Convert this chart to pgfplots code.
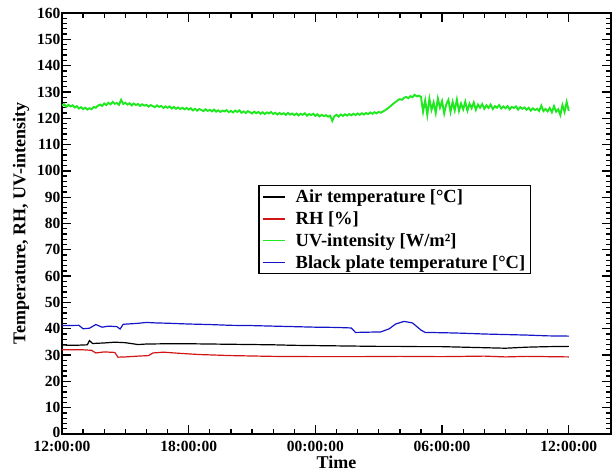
\documentclass[border=0pt]{standalone}
\usepackage{pgfplots}
\pgfplotsset{compat=1.18}
\usepackage{fontspec}
\setmainfont{Liberation Serif}

\definecolor{uvgreen}{RGB}{30,232,30}
\definecolor{rhred}{RGB}{210,20,20}
\definecolor{plateblue}{RGB}{20,20,200}

\begin{document}
\begin{tikzpicture}
\begin{axis}[
    name=ax,
    scale only axis,
    width=549pt, height=421pt,
    xmin=0, xmax=26,
    ymin=0, ymax=160,
    xtick={0,6,12,18,24},
    xticklabels={12:00:00,18:00:00,00:00:00,06:00:00,12:00:00},
    minor x tick num=5,
    ytick={0,10,...,160},
    yticklabels={\raisebox{4pt}{0},10,20,30,40,50,60,70,80,90,100,110,120,130,140,150,160},
    minor y tick num=4,
    tick align=inside,
    major tick length=9pt,
    minor tick length=5pt,
    every tick/.style={black, line width=1.3pt},
    axis line style={line width=2pt},
    /pgf/number format/assume math mode=true,
    ticklabel style={font=\bfseries\fontsize{15.5}{15.5}\selectfont},
    yticklabel style={xshift=2pt},
    xticklabel style={yshift=-4pt},
    xlabel={Time},
    ylabel={Temperature, RH, UV-intensity},
    label style={font=\bfseries\fontsize{18}{18}\selectfont},
    xlabel style={yshift=3pt},
    ylabel style={yshift=1pt},
    legend cell align=left,
    legend style={at={(0.854,0.591)}, anchor=north east,
        draw=black, line width=1.3pt,
        font=\bfseries\fontsize{18.5}{20}\selectfont,
        row sep=3.5pt, inner xsep=3pt, inner ysep=2pt},
    legend image code/.code={\draw[#1, line width=1.6pt] (0pt,0pt) -- (22pt,0pt); \path (30pt,0pt);},
]
\addplot[black, line width=1.2pt] coordinates {
(0,33.8) (0.6,33.7) (1.2,33.9) (1.3,35.5) (1.45,34.4) (2.0,34.6) (2.5,34.9)
(3.0,34.7) (3.6,34.0) (4.0,34.2) (5,34.3) (6,34.3) (7,34.2) (8,34.1) (9,34.0)
(10,33.9) (11,33.7) (12,33.6) (13,33.5) (14,33.4) (15,33.3) (16,33.3) (17,33.2)
(18,33.2) (19,33.0) (19.5,32.9) (20.5,32.7) (21,32.6) (22,33.0) (23,33.2) (24,33.3)
};
\addlegendentry{Air temperature [°C]}

\addplot[rhred, line width=1.2pt] coordinates {
(0,32.0) (1.0,32.0) (1.4,31.8) (1.6,30.8) (2.0,31.2) (2.5,31.0) (2.65,29.2)
(3.0,29.3) (3.6,29.6) (4.1,29.8) (4.3,30.8) (4.8,31.1) (5.5,30.7) (6.5,30.2)
(8,29.8) (10,29.5) (12,29.4) (14,29.4) (16,29.5) (18,29.4) (20,29.6) (21,29.3)
(22,29.5) (24,29.3)
};
\addlegendentry{RH [\%]}

\addplot[uvgreen, line width=1.9pt] coordinates {
(0.0,124.8) (0.1,125.4) (0.2,124.3) (0.3,125.1) (0.4,124.5) (0.5,124.9) (0.6,124.1) (0.7,124.6) (0.8,123.7) (0.9,124.2)
(1.0,123.5) (1.1,124.0) (1.2,123.3) (1.3,123.8) (1.4,123.4) (1.5,124.3) (1.6,124.0) (1.7,124.8) (1.8,125.2) (1.9,124.7)
(2.0,125.6) (2.1,125.0) (2.2,125.9) (2.3,125.3) (2.4,126.2) (2.5,125.5) (2.6,125.8) (2.7,125.1) (2.8,127.0) (2.9,125.4)
(3.0,125.9) (3.1,125.2) (3.2,125.7) (3.3,124.9) (3.4,125.6) (3.5,125.0) (3.6,125.4) (3.7,124.7) (3.8,125.3) (3.9,124.8)
(4.0,125.1) (4.1,124.4) (4.2,125.0) (4.3,124.6) (4.4,124.2) (4.5,124.9) (4.6,124.3) (4.7,124.7) (4.8,123.9) (4.9,124.5)
(5.0,124.0) (5.1,124.5) (5.2,123.7) (5.3,124.3) (5.4,123.6) (5.5,124.1) (5.6,123.5) (5.7,124.0) (5.8,123.4) (5.9,123.9)
(6.0,123.3) (6.1,123.8) (6.2,123.0) (6.3,123.6) (6.4,122.9) (6.5,123.5) (6.6,123.1) (6.7,122.7) (6.8,123.4) (6.9,122.8)
(7.0,123.2) (7.1,122.6) (7.2,123.3) (7.3,122.5) (7.4,123.0) (7.5,122.4) (7.6,122.9) (7.7,122.6) (7.8,123.1) (7.9,122.3)
(8.0,122.8) (8.1,122.2) (8.2,122.9) (8.3,122.4) (8.4,123.0) (8.5,122.1) (8.6,122.6) (8.7,122.0) (8.8,122.7) (8.9,122.3)
(9.0,121.8) (9.1,122.5) (9.2,121.9) (9.3,122.4) (9.4,121.7) (9.5,122.3) (9.6,121.6) (9.7,122.2) (9.8,121.8) (9.9,122.4)
(10.0,121.6) (10.1,122.1) (10.2,121.4) (10.3,122.0) (10.4,121.5) (10.5,121.9) (10.6,121.3) (10.7,122.0) (10.8,121.4) (10.9,121.8)
(11.0,121.2) (11.1,121.8) (11.2,121.1) (11.3,121.7) (11.4,121.3) (11.5,121.9) (11.6,121.0) (11.7,121.6) (11.8,121.2) (11.9,121.7)
(12.0,120.9) (12.1,121.5) (12.2,120.7) (12.3,121.3) (12.4,120.8) (12.5,121.2) (12.6,120.6) (12.7,121.0) (12.8,119.0) (12.9,120.8)
(13.0,121.3) (13.1,120.6) (13.2,121.4) (13.3,120.9) (13.4,121.5) (13.5,121.0) (13.6,121.6) (13.7,121.1) (13.8,121.7) (13.9,121.2)
(14.0,121.8) (14.1,121.3) (14.2,121.9) (14.3,121.4) (14.4,122.0) (14.5,121.6) (14.6,122.2) (14.7,121.7) (14.8,122.3) (14.9,121.9)
(15.0,122.4) (15.1,122.1) (15.2,122.6) (15.3,123.0) (15.4,123.6) (15.5,124.2) (15.6,124.9) (15.7,125.6) (15.8,126.2) (15.9,126.8)
(16.0,127.3) (16.1,127.0) (16.2,127.8) (16.3,128.1) (16.4,127.6) (16.5,128.4) (16.6,128.0) (16.7,128.9) (16.8,128.3) (16.9,128.6)
(17.0,128.2) (17.1,122.5) (17.2,126.8) (17.3,121.3) (17.4,127.4) (17.5,123.2) (17.6,126.0) (17.7,122.0) (17.8,127.5) (17.9,124.0)
(18.0,126.5) (18.1,121.8) (18.2,125.3) (18.3,127.0) (18.4,122.4) (18.5,126.2) (18.6,123.0) (18.7,127.1) (18.8,122.8) (18.9,125.6)
(19.0,123.4) (19.1,126.3) (19.2,122.9) (19.3,125.5) (19.4,123.8) (19.5,126.0) (19.6,123.2) (19.7,125.2) (19.8,124.0) (19.9,125.4)
(20.0,123.6) (20.1,124.9) (20.2,123.9) (20.3,125.2) (20.4,123.5) (20.5,124.6) (20.6,124.0) (20.7,125.0) (20.8,123.7) (20.9,124.5)
(21.0,123.8) (21.1,124.6) (21.2,123.4) (21.3,124.3) (21.4,123.9) (21.5,124.5) (21.6,123.3) (21.7,124.2) (21.8,123.6) (21.9,124.1)
(22.0,123.2) (22.1,124.0) (22.2,122.9) (22.3,123.8) (22.4,123.1) (22.5,123.6) (22.6,122.8) (22.7,124.8) (22.8,122.7) (22.9,123.5)
(23.0,122.6) (23.1,123.9) (23.2,122.3) (23.3,124.6) (23.4,122.5) (23.5,123.4) (23.6,121.2) (23.7,125.0) (23.8,122.4) (23.9,126.2)
(24.0,122.8)
};
\addlegendentry{UV-intensity [W/m²]}

\addplot[plateblue, line width=1.2pt] coordinates {
(0,41.2) (0.8,41.3) (1.0,40.0) (1.3,40.2) (1.6,41.6) (1.9,40.6) (2.2,41.0)
(2.6,40.8) (2.75,39.9) (2.9,41.7) (3.5,42.0) (4.0,42.4) (4.5,42.2) (5,42.1)
(6,41.8) (7,41.6) (8,41.3) (9,41.2) (10,41.0) (11,40.8) (12,40.6) (13,40.5)
(13.7,40.3) (13.9,38.6) (14.5,38.7) (15.1,38.8) (15.5,40.0) (15.8,41.8)
(16.2,42.8) (16.6,42.2) (17.0,39.5) (17.2,38.6) (18,38.5) (19,38.3) (20,38.0)
(21,37.8) (22,37.6) (23,37.3) (24,37.2)
};
\addlegendentry{Black plate temperature [°C]}
\end{axis}
\pgfresetboundingbox
\path[use as bounding box] ([shift={(-62pt,-38pt)}]ax.south west) rectangle ([shift={(1pt,13pt)}]ax.north east);
\end{tikzpicture}
\end{document}
